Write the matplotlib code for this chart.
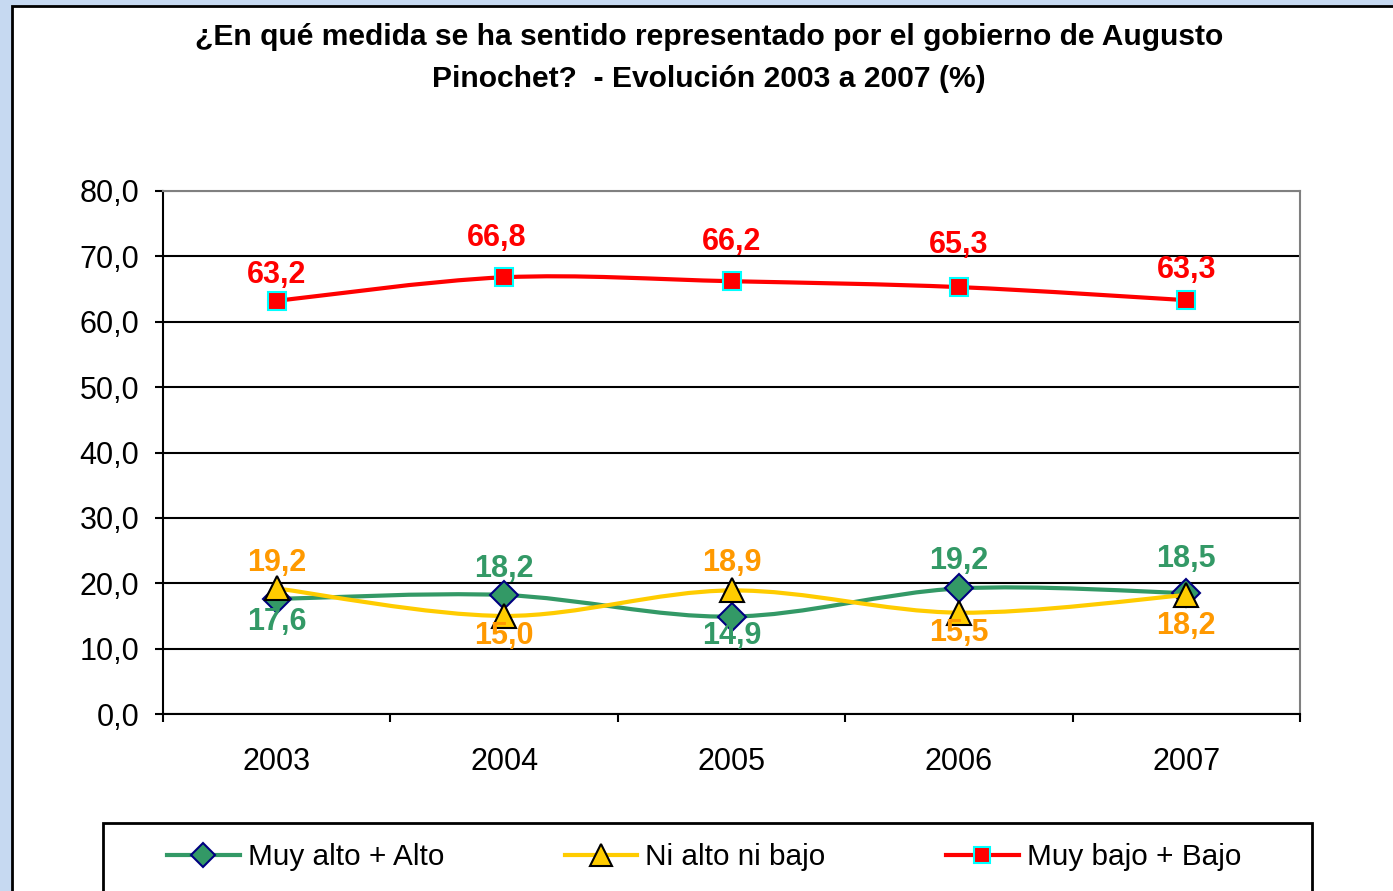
import numpy as np
import matplotlib
matplotlib.use("Agg")
import matplotlib.pyplot as plt
from matplotlib.path import Path
from matplotlib.patches import PathPatch, Rectangle
from matplotlib.lines import Line2D

# ---- data ----
years = ["2003", "2004", "2005", "2006", "2007"]
muy_alto_alto = [17.6, 18.2, 14.9, 19.2, 18.5]
ni_alto_ni_bajo = [19.2, 15.0, 18.9, 15.5, 18.2]
muy_bajo_bajo = [63.2, 66.8, 66.2, 65.3, 63.3]
series_names = ["Muy alto + Alto", "Ni alto ni bajo", "Muy bajo + Bajo"]
yticks = [0, 10, 20, 30, 40, 50, 60, 70, 80]

title = ("¿En qué medida se ha sentido representado por el gobierno de Augusto\n"
         "Pinochet?  - Evolución 2003 a 2007 (%)")

# label offsets in pixels (vertical, negative = down)
off_green = [-23, 26, -19, 27, 34]
off_yellow = [25, -20, 27, -20, -31]
off_red = [26, 39, 39, 42, 30]
dx_red = [0, -7, 0, 0, 0]

W, H = 1393, 891
plt.rcParams['font.family'] = ['Liberation Sans', 'DejaVu Sans']

fig = plt.figure(figsize=(W / 100, H / 100), dpi=100)
fig.patch.set_facecolor('#C6D9F1')
fig.add_artist(Rectangle((11.5 / W, -0.1), 1.2, (1 - 5.5 / H) + 0.1,
                         transform=fig.transFigure, facecolor='white',
                         edgecolor='black', lw=2, zorder=0))

ax = fig.add_axes([163 / W, 1 - 714 / H, (1300 - 163) / W, (714 - 191) / H])
ax.set_facecolor('white')
ax.set_xlim(-0.5, 4.5)
ax.set_ylim(0, 80)

x = np.arange(len(years))


def smooth_path(xs, ys):
    pts = np.column_stack([xs, ys]).astype(float)
    n = len(pts)
    verts = [pts[0]]
    codes = [Path.MOVETO]
    for i in range(n - 1):
        p0 = pts[i - 1] if i > 0 else pts[i]
        p1 = pts[i]
        p2 = pts[i + 1]
        p3 = pts[i + 2] if i + 2 < n else pts[i + 1]
        c1 = p1 + (p2 - p0) / 6.0
        c2 = p2 - (p3 - p1) / 6.0
        verts += [c1, c2, p2]
        codes += [Path.CURVE4] * 3
    return Path(verts, codes)


styles = [
    dict(color='#339966', marker='D', mfc='#339966', mec='#000080', ms=14, lab='#339966'),
    dict(color='#FFCC00', marker='^', mfc='#FFCC00', mec='black', ms=17, lab='#FF9900'),
    dict(color='#FF0000', marker='s', mfc='#FF0000', mec='#00FFFF', ms=13, lab='#FF0000'),
]
data = [muy_alto_alto, ni_alto_ni_bajo, muy_bajo_bajo]
offs = [off_green, off_yellow, off_red]
dxs = [[0] * 5, [0] * 5, dx_red]

handles = []
for k, (vals, st) in enumerate(zip(data, styles)):
    z = 3 + k
    ax.add_patch(PathPatch(smooth_path(x, vals), fill=False, edgecolor=st['color'],
                           lw=3.0, zorder=z, capstyle='butt'))
    ax.plot(x, vals, linestyle='none', marker=st['marker'], ms=st['ms'],
            mfc=st['mfc'], mec=st['mec'], mew=1.5, zorder=z + 0.5)
    for i, v in enumerate(vals):
        ax.annotate(f"{v:.1f}".replace('.', ','), (x[i], v),
                    xytext=(dxs[k][i], offs[k][i]), textcoords='offset pixels',
                    ha='center', va='center', fontsize=22, fontweight='bold',
                    color=st['lab'], zorder=10)
    handles.append(Line2D([], [], color=st['color'], lw=3.0, marker=st['marker'],
                          ms=st['ms'] * 0.9, mfc=st['mfc'], mec=st['mec'], mew=1.5))

# axes styling
ax.set_yticks(yticks)
ax.set_yticklabels([f"{t:.1f}".replace('.', ',') for t in yticks])
ax.yaxis.grid(True, color='black', lw=1.5, zorder=1)
ax.get_ygridlines()[-1].set_color('#808080')
ax.set_axisbelow(True)
ax.set_xticks(x)
ax.set_xticklabels(years)
ax.set_xticks(np.arange(-0.5, 5, 1.0), minor=True)
ax.tick_params(axis='x', which='major', length=0, pad=24, labelsize=22)
ax.tick_params(axis='x', which='minor', length=6, width=1.5, direction='out', color='black')
ax.tick_params(axis='y', length=6, width=1.5, pad=11, labelsize=22, color='black')
for s in ['left', 'bottom']:
    ax.spines[s].set_color('black')
    ax.spines[s].set_linewidth(1.5)
for s in ['top', 'right']:
    ax.spines[s].set_color('#808080')
    ax.spines[s].set_linewidth(1.5)

fig.text(709 / W, 1 - 58 / H, title, ha='center', va='center', fontsize=21.6,
         fontweight='bold', linespacing=1.6)

# legend
fig.add_artist(Rectangle((103 / W, -0.1), (1312 - 103) / W, (1 - 823 / H) + 0.1,
                         transform=fig.transFigure, facecolor='white',
                         edgecolor='black', lw=2, zorder=1))
leg = fig.legend(handles, series_names, loc='center left',
                 bbox_to_anchor=(167 / W, 1 - 857 / H), ncol=3, frameon=False,
                 fontsize=21.4, handlelength=2.45, handletextpad=0.27,
                 columnspacing=4.05, borderpad=0, borderaxespad=0)
leg.set_zorder(2)

fig.savefig("out.png", dpi=100, facecolor=fig.get_facecolor())
